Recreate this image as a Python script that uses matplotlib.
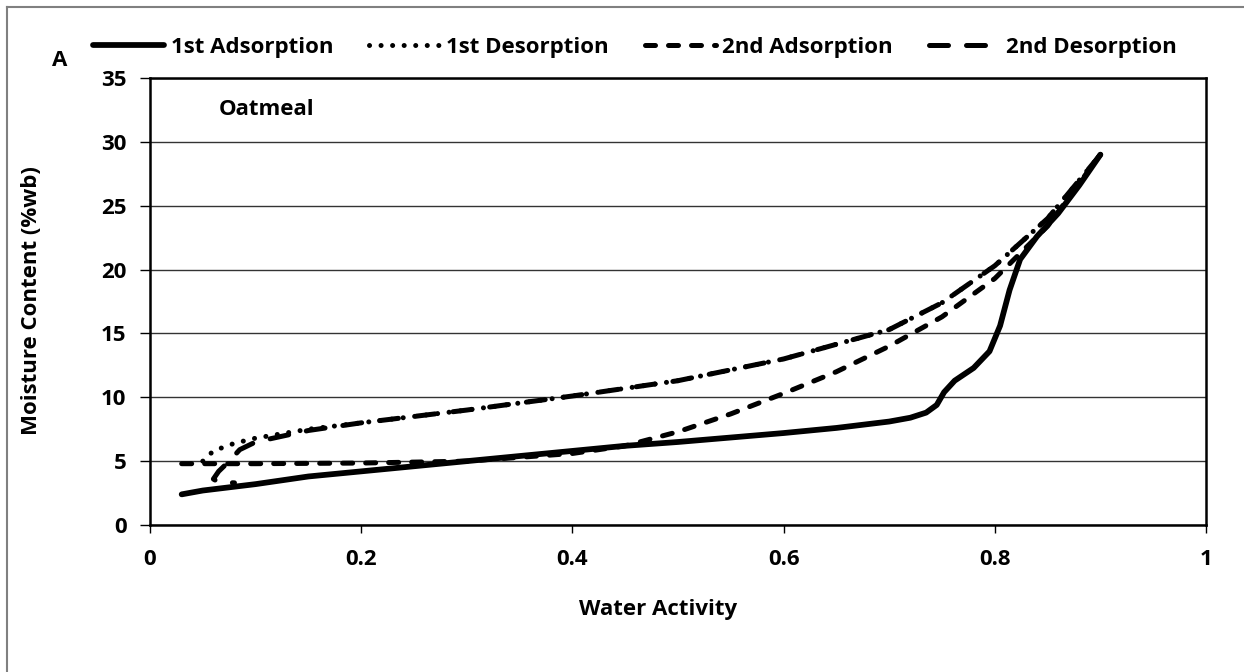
import matplotlib
matplotlib.use("Agg")
import matplotlib.pyplot as plt
from matplotlib.lines import Line2D

# Data
ads1_x = [0.03, 0.05, 0.08, 0.10, 0.15, 0.20, 0.25, 0.30, 0.35, 0.40, 0.45, 0.50, 0.55, 0.60, 0.65,
          0.70, 0.72, 0.735, 0.745, 0.752, 0.762, 0.78, 0.795, 0.805, 0.814, 0.824, 0.84, 0.86, 0.88, 0.90]
ads1_y = [2.4, 2.7, 3.0, 3.2, 3.8, 4.2, 4.6, 5.0, 5.4, 5.8, 6.2, 6.5, 6.85, 7.2, 7.6,
          8.1, 8.4, 8.8, 9.4, 10.4, 11.3, 12.3, 13.6, 15.6, 18.4, 20.8, 22.6, 24.4, 26.6, 29.0]

des1_x = [0.05, 0.06, 0.08, 0.10, 0.15, 0.20, 0.30, 0.40, 0.50, 0.60, 0.70, 0.75, 0.80, 0.85, 0.90]
des1_y = [5.0, 5.8, 6.4, 6.8, 7.5, 8.0, 9.0, 10.1, 11.3, 13.0, 15.3, 17.4, 20.3, 24.0, 29.0]

ads2_x = [0.03, 0.10, 0.20, 0.30, 0.40, 0.45, 0.50, 0.55, 0.60, 0.65, 0.70, 0.75, 0.80, 0.85, 0.90]
ads2_y = [4.8, 4.8, 4.85, 5.0, 5.6, 6.2, 7.3, 8.7, 10.3, 12.0, 14.0, 16.3, 19.3, 23.4, 29.0]

des2_x = [0.90, 0.85, 0.80, 0.75, 0.70, 0.60, 0.50, 0.40, 0.30, 0.20, 0.15, 0.10, 0.085, 0.075, 0.065, 0.06, 0.065, 0.08]
des2_y = [29.0, 24.0, 20.3, 17.4, 15.3, 13.0, 11.3, 10.1, 9.0, 8.0, 7.4, 6.5, 5.9, 5.0, 4.2, 3.6, 3.35, 3.3]

x_ticks = [0, 0.2, 0.4, 0.6, 0.8, 1]
x_tick_labels = ["0", "0.2", "0.4", "0.6", "0.8", "1"]
y_ticks = [0, 5, 10, 15, 20, 25, 30, 35]

plt.rcParams['font.family'] = ['Open Sans', 'DejaVu Sans']
plt.rcParams['font.weight'] = 'bold'
FS = 16

W, H = 1244, 672
fig = plt.figure(figsize=(W/100, H/100), dpi=100)
ax = fig.add_axes([150/W, 1-525/H, (1206-150)/W, (525-78)/H])

lw_px = 5.0
lw = lw_px * 72/100
ax.plot(ads1_x, ads1_y, color='black', lw=lw*1.15, solid_capstyle='round', solid_joinstyle='round',
        label='1st Adsorption', zorder=3)
ax.plot(des1_x, des1_y, color='black', lw=lw, linestyle=(0, (0.01, 2.3)), dash_capstyle='round',
        label='1st Desorption', zorder=3)
ax.plot(ads2_x, ads2_y, color='black', lw=lw, linestyle=(0, (2.0, 2.6)), dash_capstyle='round',
        label='2nd Adsorption', zorder=3)
ax.plot(des2_x, des2_y, color='black', lw=lw, linestyle=(0, (3.8, 3.6)), dash_capstyle='round',
        label='2nd Desorption', zorder=3)

ax.set_xlim(0, 1)
ax.set_ylim(0, 35)
ax.set_xticks(x_ticks)
ax.set_xticklabels(x_tick_labels)
ax.set_yticks(y_ticks)
ax.yaxis.grid(True, color='#333333', lw=1.0)
ax.set_axisbelow(True)
for s in ax.spines.values():
    s.set_color('black')
    s.set_linewidth(1.8)
ax.tick_params(axis='y', direction='out', length=7, width=1.0, labelsize=FS, pad=10)
ax.tick_params(axis='x', direction='out', length=6, width=1.0, labelsize=FS, pad=11)
for lab in ax.get_xticklabels() + ax.get_yticklabels():
    lab.set_fontweight('bold')

fig.text(658/W, 1-610/H, 'Water Activity', fontsize=FS, fontweight='bold', ha='center', va='center')
fig.text(32/W, 1-301/H, 'Moisture Content (%wb)', fontsize=FS, fontweight='bold', ha='center', va='center',
         rotation=90)

ax.text(0.065, 0.93, 'Oatmeal', transform=ax.transAxes, fontsize=FS, fontweight='bold', va='center', ha='left')
fig.text(60/W, 1-60/H, 'A', fontsize=FS, fontweight='bold', ha='center', va='center')

leg = fig.legend(loc='center', bbox_to_anchor=(635/W, 1-47/H), ncol=4, frameon=False,
                 prop={'size': FS, 'weight': 'bold'}, handlelength=3.2, columnspacing=1.6, handletextpad=0.3)

fig.add_artist(Line2D([7/W, 7/W], [0, 1-7/H], transform=fig.transFigure, color='#808080', lw=1.5))
fig.add_artist(Line2D([7/W, 1], [1-7/H, 1-7/H], transform=fig.transFigure, color='#808080', lw=1.5))

fig.savefig('out.png', dpi=100)
